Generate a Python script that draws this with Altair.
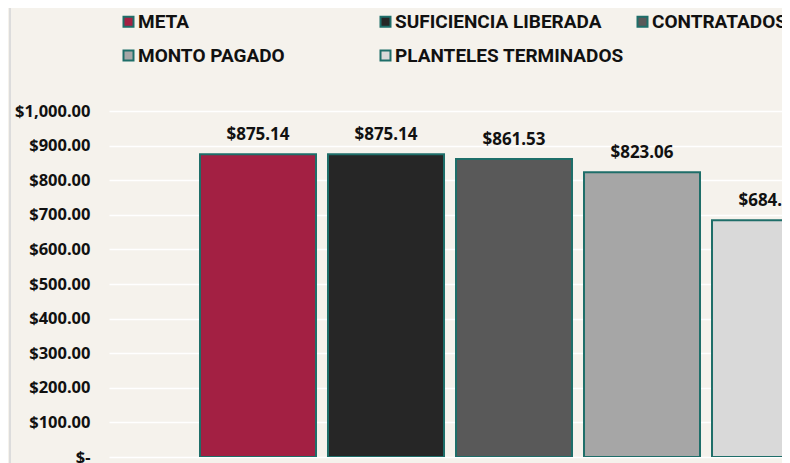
import altair as alt
import pandas as pd

categories = ["META", "SUFICIENCIA LIBERADA", "CONTRATADOS", "MONTO PAGADO", "PLANTELES TERMINADOS"]
values = [875.14, 875.14, 861.53, 823.06, 684.25]
colors = ["#A32043", "#262626", "#595959", "#A6A6A6", "#D9D9D9"]
y_ticks = [0, 100, 200, 300, 400, 500, 600, 700, 800, 900, 1000]

df = pd.DataFrame({
    "cat": categories,
    "value": values,
    "idx": list(range(len(categories))),
    "label": ["$" + f"{v:,.2f}" for v in values],
})

BG = "#F5F2EC"
STROKE = "#1E6E69"

x = alt.X("idx:Q", scale=alt.Scale(domain=[-1.1641, 4.0937], nice=False, zero=False, padding=0), axis=None)
y = alt.Y(
    "value:Q",
    stack=None,
    scale=alt.Scale(domain=[0, 1000], nice=False),
    axis=alt.Axis(
        values=y_ticks,
        labelExpr="datum.value == 0 ? '$-' : '$' + format(datum.value, ',.2f')",
        title=None,
        domain=False,
        ticks=False,
        grid=True,
        gridColor="#FFFFFF",
        gridWidth=1.5,
        labelFont="Noto Sans",
        labelFontWeight="bold",
        labelFontSize=16.5,
        labelColor="#111111",
        labelPadding=19,
        labelOverlap=False,
    ),
)

bars = alt.Chart(df).mark_bar(
    size=116, orient="vertical", stroke=STROKE, strokeWidth=2, clip=True
).encode(
    x=x,
    y=y,
    fill=alt.Fill(
        "cat:N",
        scale=alt.Scale(domain=categories, range=colors),
        legend=alt.Legend(
            title=None,
            orient="none",
            legendX=10,
            legendY=-99,
            direction="horizontal",
            columns=3,
            gridAlign="all",
            columnPadding=9,
            rowPadding=14,
            symbolType="square",
            symbolSize=100,
            symbolStrokeColor=STROKE,
            symbolStrokeWidth=2,
            symbolOpacity=1,
            labelFont="Roboto",
            labelFontWeight="bold",
            labelFontSize=19,
            labelColor="#111111",
            labelOffset=0,
            labelLimit=320,
            padding=0,
        ),
    ),
)

texts = alt.Chart(df).mark_text(
    dy=-10, baseline="bottom", align="center", clip=True,
    font="Noto Sans", fontWeight="bold", fontSize=17, color="#111111",
).encode(x=x, y=y, text="label:N")

edge = alt.Chart(pd.DataFrame({"a": [0]})).mark_rule(color="#DCDCDC", strokeWidth=2).encode(
    x=alt.value(-99), y=alt.value(-103), y2=alt.value(360)
)

chart = alt.layer(edge, bars, texts).properties(
    width=673,
    height=346,
    padding={"left": 101, "top": 103, "right": 0, "bottom": 8},
    autosize="none",
    background=BG,
).configure_view(stroke=None)

chart.save("out.html", embed_options={"renderer": "svg", "actions": False})
